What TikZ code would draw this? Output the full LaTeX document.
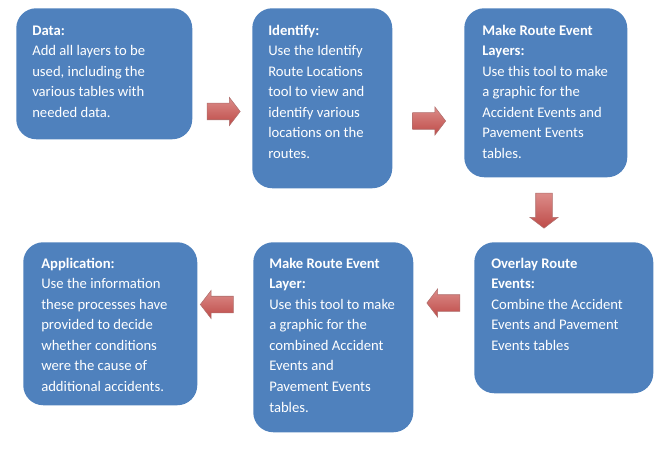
\documentclass[tikz,border=0pt]{standalone}
\usepackage{fontspec}
\setmainfont{Carlito}
\usetikzlibrary{shapes.arrows, calc}

\definecolor{stageblue}{HTML}{4F81BD}
\definecolor{arrowred}{HTML}{BE4B48}
\definecolor{arrowlight}{HTML}{DC8C89}
\definecolor{arrowdark}{HTML}{8C3230}

\newcommand\stagetop{\rule{0pt}{9pt}}

\tikzset{
    stage/.style={rectangle, rounded corners=15pt, fill=stageblue, anchor=north west, inner sep=0pt},
    stagetext/.style={anchor=north west, align=left, text=white, inner sep=0pt,
        font=\fontsize{11pt}{15.4pt}\selectfont},
    flow/.style={single arrow, inner sep=0pt, minimum height=24.75pt,
        single arrow head extend=4.3pt, single arrow tip angle=105,
        top color=arrowlight, bottom color=arrowred, draw=arrowdark!70, line width=0.4pt},
}

\begin{document}
\begin{tikzpicture}[x=0.75pt, y=-0.75pt]
    \useasboundingbox (0,0) rectangle (666,449);

    % stages, top row
    \node[stage, minimum width=132pt, minimum height=98.25pt] (data) at (16,8) {};
    \node[stage, minimum width=105pt, minimum height=135pt] (identify) at (252,8) {};
    \node[stage, minimum width=122.25pt, minimum height=126.75pt] (makelayers) at (464,8) {};
    % stages, bottom row
    \node[stage, minimum width=134.25pt, minimum height=113.25pt] (overlay) at (474,242) {};
    \node[stage, minimum width=120pt, minimum height=142.5pt] (makelayer) at (253,242) {};
    \node[stage, minimum width=130.5pt, minimum height=122.25pt] (application) at (23,242) {};

    % texts
    \node[stagetext] (data-txt) at ([shift={(16,15)}]data.north west)
        {\stagetop\textbf{Data:}\\Add all layers to be\\used, including the\\various tables with\\needed data.};
    \node[stagetext] (identify-txt) at ([shift={(16,15)}]identify.north west)
        {\stagetop\textbf{Identify:}\\Use the Identify\\Route Locations\\tool to view and\\identify various\\locations on the\\routes.};
    \node[stagetext] (makelayers-txt) at ([shift={(18,15)}]makelayers.north west)
        {\stagetop\textbf{Make Route Event}\\\textbf{Layers:}\\Use this tool to make\\a graphic for the\\Accident Events and\\Pavement Events\\tables.};
    \node[stagetext] (overlay-txt) at ([shift={(17,14)}]overlay.north west)
        {\stagetop\textbf{Overlay Route}\\\textbf{Events:}\\Combine the Accident\\Events and Pavement\\Events tables};
    \node[stagetext] (makelayer-txt) at ([shift={(16,14)}]makelayer.north west)
        {\stagetop\textbf{Make Route Event}\\\textbf{Layer:}\\Use this tool to make\\a graphic for the\\combined Accident\\Events and\\Pavement Events\\tables.};
    \node[stagetext] (application-txt) at ([shift={(18,14)}]application.north west)
        {\stagetop\textbf{Application:}\\Use the information\\these processes have\\provided to decide\\whether conditions\\were the cause of\\additional accidents.};

    % block arrows
    \node[flow] (a1) at (220.5,111.5) {\rule{0pt}{12pt}};
    \node[flow] (a2) at (426,121) {\rule{0pt}{12pt}};
    \node[flow, shape border rotate=270, minimum height=26.25pt] (a3) at (544,207.5) {\rule{12pt}{0pt}};
    \node[flow, shape border rotate=180] (a4) at (446.5,303) {\rule{0pt}{12pt}};
    \node[flow, shape border rotate=180] (a5) at (220,304.5) {\rule{0pt}{12pt}};
\end{tikzpicture}
\end{document}
